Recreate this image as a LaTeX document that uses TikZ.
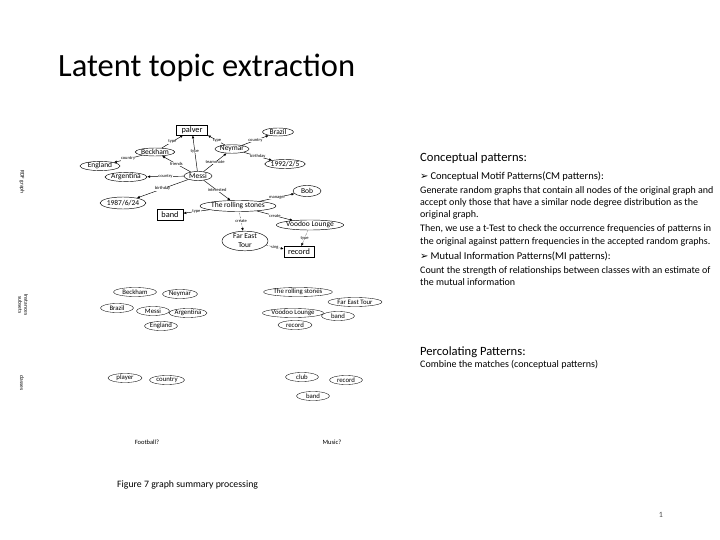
\documentclass[tikz,border=0pt]{standalone}
\usepackage{fontspec}
\setmainfont{Carlito}
\newfontfamily\symfont{DejaVu Sans}
\usetikzlibrary{shapes.geometric,arrows.meta}
\begin{document}
\begin{tikzpicture}[x=1pt,y=-1pt,
  ell/.style={ellipse,draw,line width=0.45pt,inner sep=0pt,font=\fontsize{7.5}{8}\selectfont},
  ell2/.style={ellipse,draw,line width=0.35pt,inner sep=0pt,minimum height=9pt,font=\fontsize{6.8}{8}\selectfont},
  box/.style={rectangle,draw,line width=0.6pt,inner sep=0pt,font=\fontsize{8.3}{9}\selectfont},
  edge/.style={-{Latex[length=3pt,width=2.6pt]},line width=0.45pt},
  dedge/.style={edge,densely dotted},
  elab/.style={font=\fontsize{4.5}{5}\selectfont,inner sep=0.2pt,fill=white},
  side/.style={rotate=-90,font=\fontsize{5.5}{6}\selectfont,align=center,inner sep=0pt},
  rt/.style={anchor=base west,inner sep=0pt,font=\fontsize{10}{11}\selectfont},
  rh/.style={anchor=base west,inner sep=0pt,font=\fontsize{12.6}{14}\selectfont},
  rb/.style={anchor=base west,inner sep=0pt,font=\fontsize{10.5}{13}\selectfont}]
\useasboundingbox (0,0) rectangle (720,540);
\fill[white] (0,0) rectangle (720,540);

% title
\node[anchor=base west,inner sep=0pt,font=\fontsize{32.5}{36}\selectfont] (title) at (58,77) {Latent topic extraction};

% ---------- RDF graph ----------
\node[box,minimum width=31pt,minimum height=10pt] (palver) at (192,130) {palver};
\node[ell,minimum width=31pt,minimum height=8pt] (brazil) at (278,132) {Brazil};
\node[ell,minimum width=33pt,minimum height=7pt] (neymar) at (232,149) {Neymar};
\node[ell,minimum width=37pt,minimum height=8pt] (beckham) at (155,152) {Beckham};
\node[ell,minimum width=40pt,minimum height=8pt] (england) at (100,166) {England};
\node[ell,minimum width=37pt,minimum height=9pt] (d1992) at (285,164) {1992/2/5};
\node[ell,minimum width=38pt,minimum height=9pt] (argentina) at (126,177) {Argentina};
\node[ell,minimum width=28pt,minimum height=9pt] (messi) at (198,176) {Messi};
\node[ell,minimum width=43pt,minimum height=12pt] (d1987) at (123,203) {1987/6/24};
\node[ell,minimum width=28pt,minimum height=11pt] (bob) at (307,191) {Bob};
\node[ell,minimum width=68pt,minimum height=11pt] (stones) at (238,206) {The rolling stones};
\node[box,minimum width=26pt,minimum height=11pt] (band) at (170,215) {band};
\node[ell,minimum width=52pt,minimum height=10pt] (voodoo) at (310,225) {Voodoo Lounge};
\node[ell,minimum width=46pt,minimum height=18pt,align=center,font=\fontsize{7.5}{9}\selectfont] (fareast) at (245,241) {Far East\\Tour};
\node[box,minimum width=30pt,minimum height=11pt] (record) at (299,252) {record};

\draw[edge] (beckham) -- node[elab]{type} (palver);
\draw[edge] (neymar) -- node[elab,pos=0.45]{type} (palver.south east);
\draw[edge] (messi) -- node[elab,pos=0.55]{type} (palver);
\draw[edge] (neymar) -- node[elab]{country} (brazil);
\draw[edge] (neymar) -- node[elab]{birthday} (d1992);
\draw[edge] (messi) -- node[elab]{friends} (beckham);
\draw[edge] (messi) -- node[elab]{teammate} (neymar);
\draw[edge] (messi) -- node[elab]{country} (argentina);
\draw[edge] (beckham) -- node[elab]{country} (england);
\draw[edge] (messi) -- node[elab]{birthday} (d1987);
\draw[edge] (messi) -- node[elab]{interested} (stones);
\draw[edge] (stones) -- node[elab]{manager} (bob);
\draw[edge] (stones) -- node[elab]{type} (band);
\draw[edge] (stones) -- node[elab]{create} (voodoo);
\draw[dedge] (stones) -- node[elab]{create} (fareast);
\draw[dedge] (voodoo) -- node[elab]{type} (record);
\draw[dedge] (fareast) -- node[elab]{sing} (record);

% ---------- instances subsets ----------
\node[ell2,minimum width=43pt] (i1) at (135,292) {Beckham};
\node[ell2,minimum width=35pt] (i2) at (180,294) {Neymar};
\node[ell2,minimum width=33pt] (i3) at (117,308) {Brazil};
\node[ell2,minimum width=33pt] (i4) at (153,311) {Messi};
\node[ell2,minimum width=34pt] (i5) at (188,313) {Argentina};
\node[ell2,minimum width=33pt] (i6) at (161,326) {England};
\node[ell2,minimum width=62pt] (i7) at (298,292) {The rolling stones};
\node[ell2,minimum width=54pt] (i8) at (355,302) {Far East Tour};
\node[ell2,minimum width=61pt] (i9) at (293,313) {Voodoo Lounge};
\node[ell2,minimum width=33pt] (i10) at (338,316) {band};
\node[ell2,minimum width=34pt] (i11) at (295,325) {record};

% ---------- classes ----------
\node[ell2,minimum width=34pt] (c1) at (125,378) {player};
\node[ell2,minimum width=35pt] (c2) at (167,380) {country};
\node[ell2,minimum width=33pt] (c3) at (302,377) {club};
\node[ell2,minimum width=33pt] (c4) at (346,380) {record};
\node[ell2,minimum width=33pt] (c5) at (313,396) {band};
\node[font=\fontsize{6.5}{7}\selectfont] (football) at (147,442) {Football?};
\node[font=\fontsize{6.5}{7}\selectfont] (music) at (332,442) {Music?};

% side labels
\node[side] (lrdf) at (22,182) {RDF graph};
\node[side] (linst) at (23,305) {Instances\\subsets};
\node[side] (lcls) at (22,383) {classes};

% ---------- right text ----------
\node[rh] (h1) at (420,162) {Conceptual patterns:};
\node[rb] (b1) at (420,180) {{\symfont\fontsize{10}{10}\selectfont ➢}\hspace{2pt}Conceptual Motif Patterns(CM patterns):};
\node[rt] (t1) at (420,194) {Generate random graphs that contain all nodes of the original graph and};
\node[rt] (t2) at (420,206) {accept only those that have a similar node degree distribution as the};
\node[rt] (t3) at (420,218) {original graph.};
\node[rt] (t4) at (420,232) {Then, we use a t-Test to check the occurrence frequencies of patterns in};
\node[rt] (t5) at (420,244) {the original against pattern frequencies in the accepted random graphs.};
\node[rb] (b2) at (420,259) {{\symfont\fontsize{10}{10}\selectfont ➢}\hspace{2pt}Mutual Information Patterns(MI patterns):};
\node[rt] (t6) at (420,273) {Count the strength of relationships between classes with an estimate of};
\node[rt] (t7) at (420,285) {the mutual information};

\node[rh] (h2) at (420,355) {Percolating Patterns:};
\node[rt] (t8) at (420,367) {Combine the matches (conceptual patterns)};

\node[anchor=base west,inner sep=0pt,font=\fontsize{9.8}{11}\selectfont] (cap) at (117,487) {Figure 7 graph summary processing};
\node[anchor=base,inner sep=0pt,font=\fontsize{8}{9}\selectfont,text=black!70] (pnum) at (661,517) {1};
\end{tikzpicture}
\end{document}
